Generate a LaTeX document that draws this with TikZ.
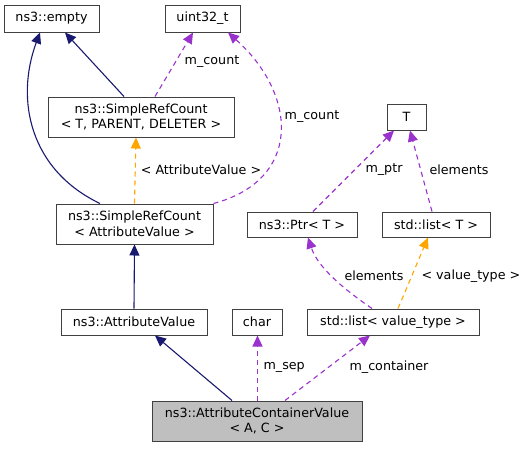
\documentclass[tikz,border=0pt]{standalone}
\usepackage{fontspec}
\setmainfont{DejaVu Sans}
\usetikzlibrary{arrows.meta}
\definecolor{inhblue}{RGB}{25,25,112}
\definecolor{usepurple}{RGB}{154,50,205}
\definecolor{tmplorange}{RGB}{255,165,0}
\definecolor{boxgray}{RGB}{191,191,191}

\begin{document}
\begin{tikzpicture}[x=1pt,y=-1pt,
    box/.style={draw=black!75,line width=1pt,inner sep=0pt,align=center,
        font=\fontsize{12.7}{15.5}\selectfont},
    lbl/.style={font=\fontsize{12.7}{15.5}\selectfont},
    inh/.style={draw=inhblue,line width=1.1pt,-{Triangle[length=11pt,width=10pt]},fill=none},
    use/.style={draw=usepurple,line width=1.1pt,dash pattern=on 5pt off 4pt,
        -{Triangle[length=11pt,width=10pt,fill=usepurple]}},
    tmpl/.style={use,draw=tmplorange,-{Triangle[length=11pt,width=10pt,fill=tmplorange]}}]
\useasboundingbox (0,0) rectangle (528,448);
% classes
\node[box,minimum width=95pt,minimum height=27pt] (empty) at (51.5,18.5) {ns3::empty};
\node[box,minimum width=75pt,minimum height=27pt] (uint) at (202.5,18.5) {uint32\_t};
\node[box,minimum width=186pt,minimum height=40pt] (srcT) at (141,117) {ns3::SimpleRefCount\\< T, PARENT, DELETER >};
\node[box,minimum width=157pt,minimum height=40pt] (srcA) at (134.5,224) {ns3::SimpleRefCount\\< AttributeValue >};
\node[box,minimum width=39pt,minimum height=26pt] (T) at (406.5,117) {T};
\node[box,minimum width=110pt,minimum height=25pt] (ptr) at (302,224.5) {ns3::Ptr< T >};
\node[box,minimum width=108pt,minimum height=25pt] (listT) at (436,224.5) {std::list< T >};
\node[box,minimum width=146pt,minimum height=26pt] (av) at (134,322) {ns3::AttributeValue};
\node[box,minimum width=50pt,minimum height=26pt] (char) at (257,322) {char};
\node[box,minimum width=172pt,minimum height=26pt] (listV) at (393,322) {std::list< value\_type >};
\node[box,fill=boxgray,minimum width=210pt,minimum height=40pt] (acv) at (257,421) {ns3::AttributeContainerValue\\< A, C >};
% inheritance
\draw[inh] ([xshift=-17pt]srcT.north) -- ([xshift=13.5pt]empty.south);
\draw[inh] ([xshift=-34.5pt]srcA.north) .. controls (30,170) and (15,100) .. ([xshift=-11.5pt]empty.south);
\draw[inh] (av.north) -- (srcA.south);
\draw[inh] ([xshift=-25pt]acv.north) -- ([xshift=21pt]av.south);
% members
\draw[use] ([xshift=14pt]srcT.north) -- ([xshift=-9.5pt]uint.south);
\draw (212,62) node[lbl] (lcountA) {m\_count};
\draw[use] (srcA.north east) .. controls (302,180) and (298,95) .. ([xshift=25.5pt]uint.south);
\draw (312,117) node[lbl] (lcountB) {m\_count};
\draw[use] ([xshift=0.5pt]acv.north) -- ([xshift=0.5pt]char.south);
\draw (260,367) node[lbl,anchor=west] (lsep) {m\_sep};
\draw[use] ([xshift=28pt]acv.north) -- ([xshift=-23pt]listV.south);
\draw (346,367) node[lbl,anchor=west] (lcont) {m\_container};
\draw[use] ([xshift=-21pt]listV.north) .. controls (345,290) and (318,268) .. ([xshift=6pt]ptr.south);
\draw (374,276) node[lbl] (lelemA) {elements};
\draw[use] ([xshift=11pt]ptr.north) -- ([xshift=-12.5pt]T.south);
\draw (384,170) node[lbl] (lptr) {m\_ptr};
\draw[use] ([xshift=-4pt]listT.north) -- ([xshift=3.5pt]T.south);
\draw (426,170) node[lbl,anchor=west] (lelemB) {elements};
% templates
\draw[tmpl] (srcA.north) -- ([xshift=-5pt]srcT.south);
\draw (201,170) node[lbl] (lattr) {< AttributeValue >};
\draw[tmpl] ([xshift=5pt]listV.north) -- ([xshift=-8pt]listT.south);
\draw (418,276) node[lbl,anchor=west] (lvt) {< value\_type >};
\end{tikzpicture}
\end{document}
